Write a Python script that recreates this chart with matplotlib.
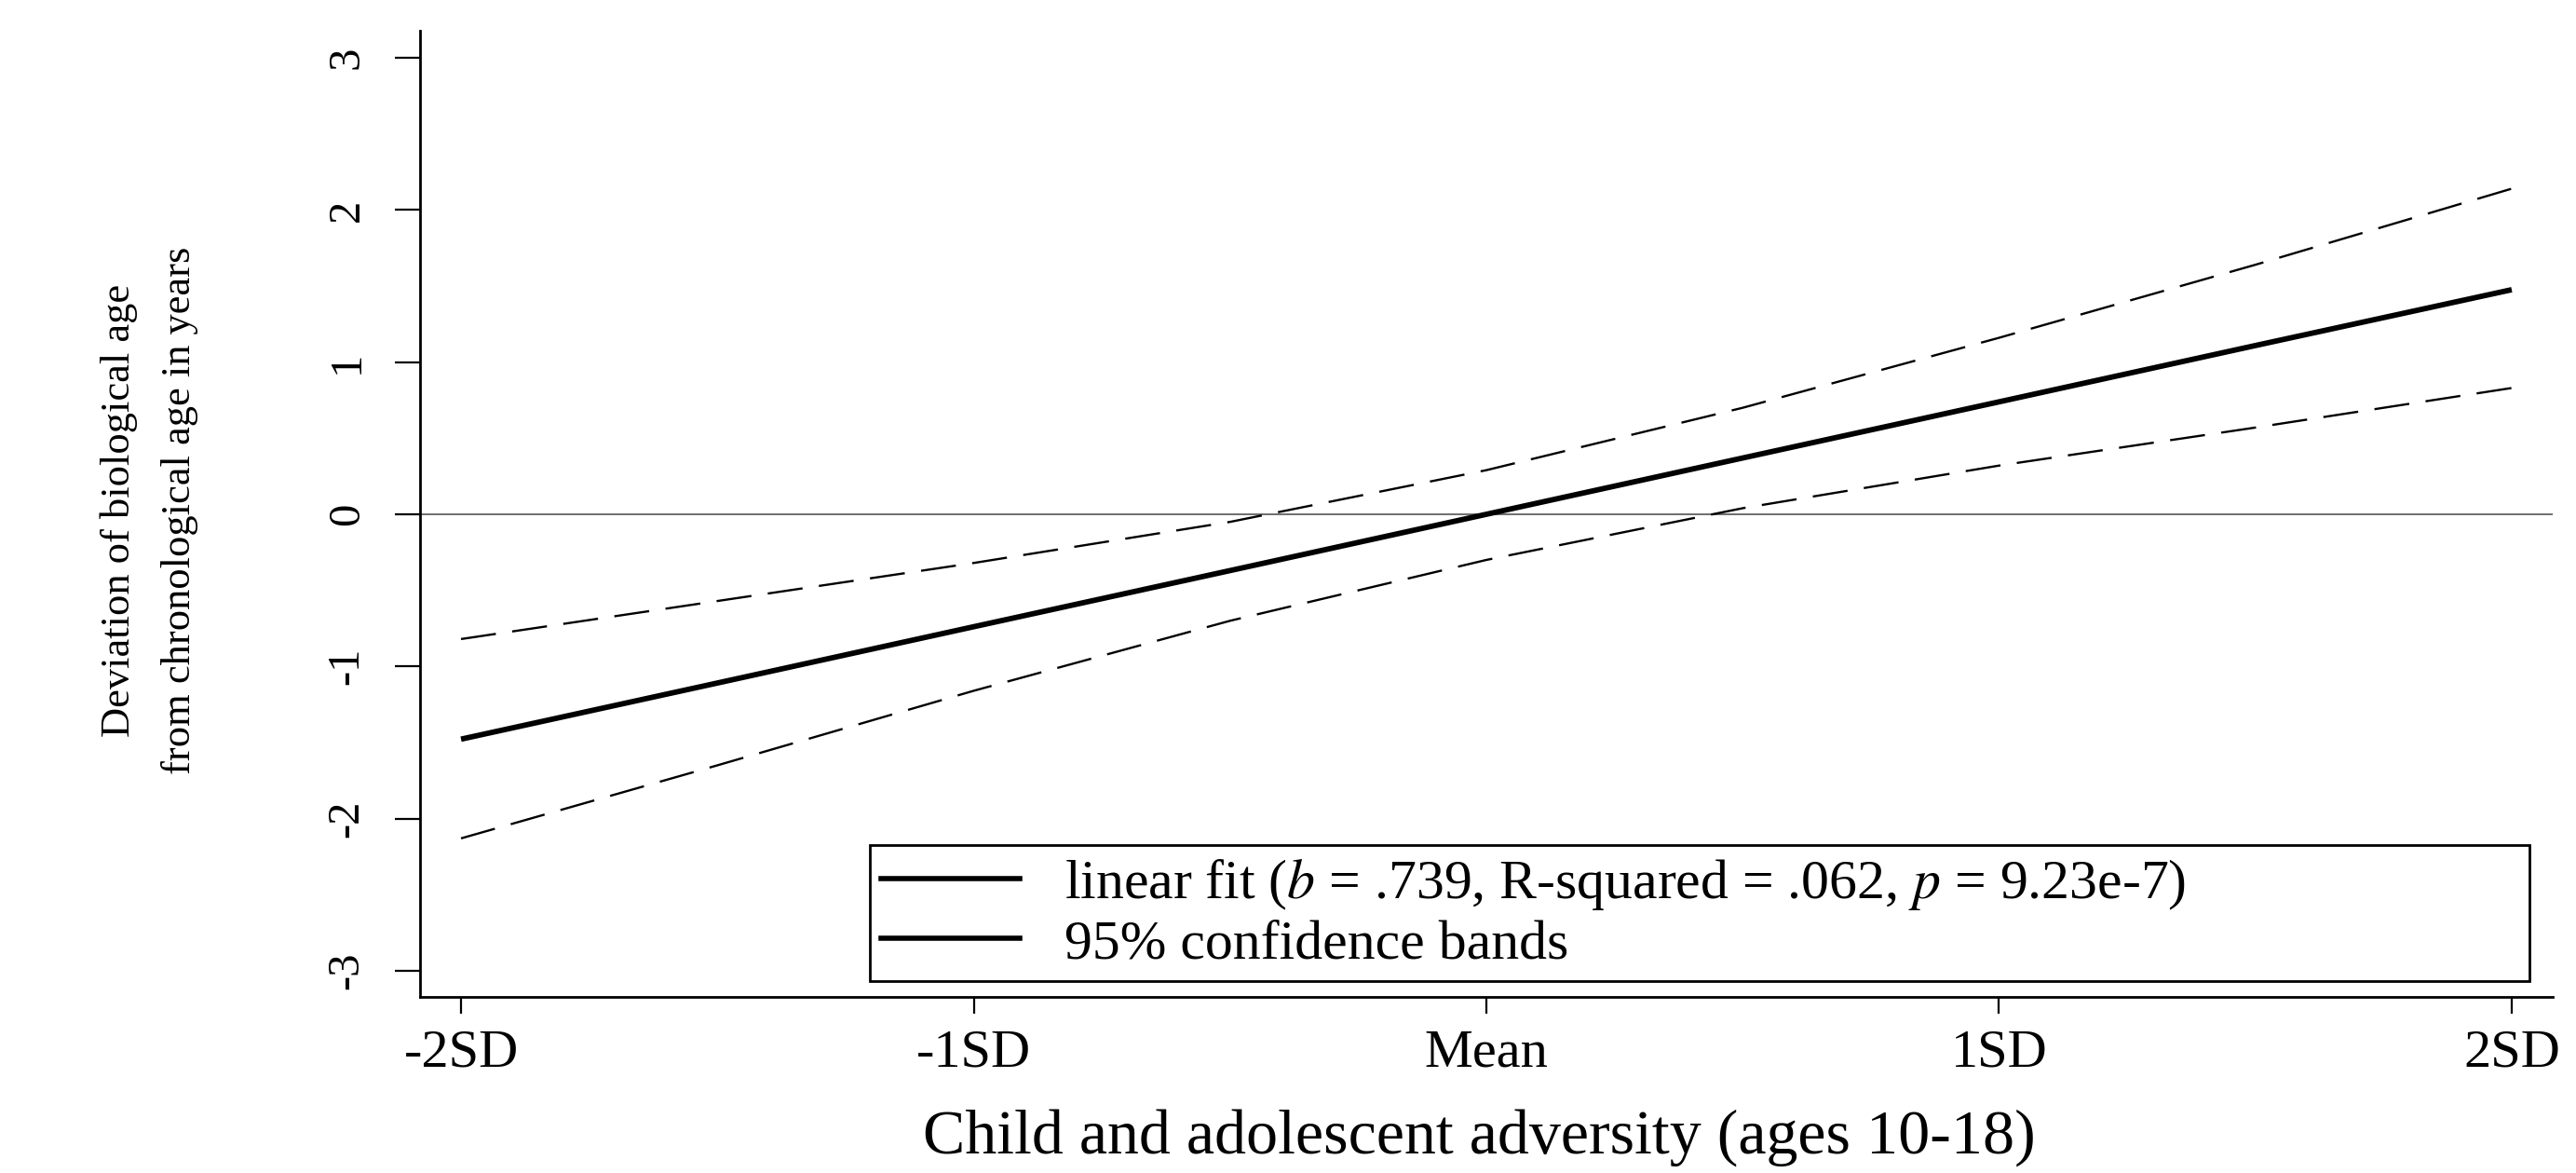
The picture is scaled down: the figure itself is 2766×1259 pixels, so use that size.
#!/usr/bin/env python3
"""
Linear fit of deviation of biological age on child/adolescent adversity,
with 95% confidence bands (Stata-style look).
Output: out.png
"""
import numpy as np
import matplotlib
matplotlib.use("Agg")
import matplotlib.pyplot as plt
from matplotlib.lines import Line2D

plt.rcParams.update({"font.family": "Liberation Serif",
                     "mathtext.fontset": "stix"})

# adversity in SD units
adv_sd   = [-2.0, -1.5, -1.0, -0.5, 0.0, 0.5, 1.0, 1.5, 2.0]
fit      = [-1.478, -1.109, -0.739, -0.370, 0.0, 0.370, 0.739, 1.109, 1.476]
ci_upper = [-0.82, -0.57, -0.32, -0.05, 0.29, 0.70, 1.16, 1.64, 2.14]
ci_lower = [-2.13, -1.65, -1.16, -0.70, -0.30, 0.04, 0.32, 0.57, 0.83]

xtick_pos    = [-2, -1, 0, 1, 2]
xtick_labels = ["-2SD", "-1SD", "Mean", "1SD", "2SD"]
ytick_pos    = [-3, -2, -1, 0, 1, 2, 3]

fit_label = r"linear fit ($b$ = .739, R-squared = .062, $p$ = 9.23e-7)"
ci_label  = "95% confidence bands"

W, H = 2766, 1259
fig = plt.figure(figsize=(W / 100, H / 100), dpi=100)
ax = fig.add_axes([451 / W, 1 - 1070 / H, (2741 - 451) / W, (1070 - 33) / H])

ax.axhline(0, color="#6e6e6e", lw=1.4, zorder=1)
ax.plot(adv_sd, fit, color="black", lw=4.2, solid_capstyle="butt", zorder=3)
dash = (0, (16, 7.5))
ax.plot(adv_sd, ci_upper, color="black", lw=1.7, ls=dash, zorder=2)
ax.plot(adv_sd, ci_lower, color="black", lw=1.7, ls=dash, zorder=2)

ax.set_xlim(-2.08, 2.08)
ax.set_ylim(-3.172, 3.178)

ax.set_xticks(xtick_pos)
ax.set_xticklabels(xtick_labels, fontsize=42)
ax.set_yticks(ytick_pos)
ax.set_yticklabels([str(v) for v in ytick_pos], fontsize=35,
                   rotation=90, va="center")
ax.tick_params(axis="x", length=13, width=1.6, pad=12)
ax.tick_params(axis="y", length=19.5, width=1.6, pad=21)

for spine in ("top", "right"):
    ax.spines[spine].set_visible(False)
for spine in ("left", "bottom"):
    ax.spines[spine].set_linewidth(2.0)

fig.text(1588 / W, 1 - 1221 / H,
         "Child and adolescent adversity (ages 10-18)",
         ha="center", va="center", fontsize=49)
fig.text(160 / W, 1 - 548 / H,
         "Deviation of biological age\nfrom chronological age in years",
         ha="center", va="center", rotation=90, fontsize=32,
         linespacing=1.8)

# legend: Stata draws both keys as solid lines
handles = [Line2D([], [], color="black", lw=4.0),
           Line2D([], [], color="black", lw=4.0)]
leg = ax.legend(handles, [fit_label, ci_label],
                loc="lower left",
                bbox_to_anchor=(0.2109, 0.0164, 0.7782, 0.144),
                mode="expand", fontsize=43, frameon=True, fancybox=False,
                edgecolor="black", framealpha=1, borderpad=0.2,
                labelspacing=0.12, handlelength=2.5, handletextpad=0.8,
                borderaxespad=0)
leg.get_frame().set_linewidth(2.0)

fig.savefig("out.png", dpi=100)
